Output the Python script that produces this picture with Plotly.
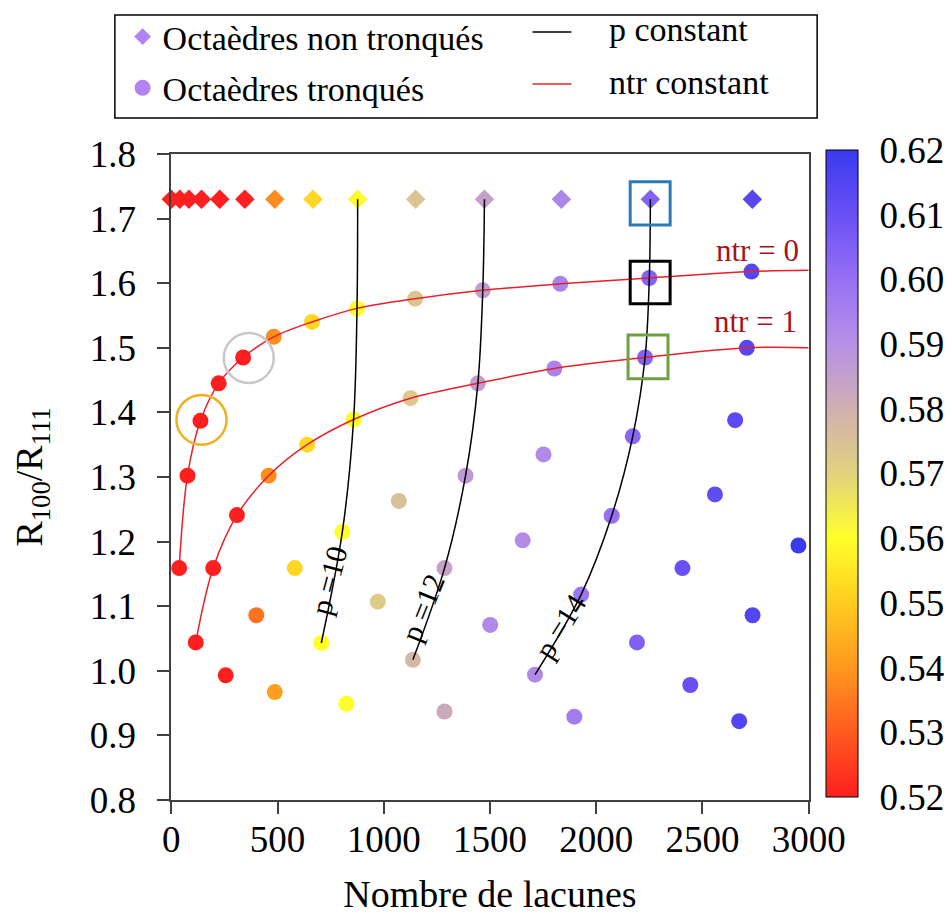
import plotly.graph_objects as go

FONT = "Liberation Serif"

# Octaèdres non tronqués (diamonds)
diam_x = [0, 40, 83, 142, 228, 346, 487, 667, 877, 1150, 1474, 1836, 2255, 2735]
diam_y = [1.73, 1.73, 1.73, 1.73, 1.73, 1.73, 1.73, 1.73, 1.73, 1.73, 1.73, 1.73, 1.73, 1.73]
diam_c = [0.52, 0.52, 0.52, 0.52, 0.52, 0.52, 0.538, 0.552, 0.559, 0.574, 0.585, 0.593, 0.604, 0.614]

# Octaèdres tronqués, ntr = 0
ntr0_x = [37, 76, 137, 223, 338, 482, 662, 874, 1148, 1466, 1831, 2250, 2731]
ntr0_y = [1.159, 1.302, 1.387, 1.445, 1.485, 1.517, 1.540, 1.561, 1.576, 1.589, 1.599, 1.608, 1.618]
ntr0_c = [0.52, 0.52, 0.52, 0.52, 0.52, 0.538, 0.552, 0.56, 0.574, 0.586, 0.594, 0.604, 0.614]

# Octaèdres tronqués, ntr = 1
ntr1_x = [115, 197, 309, 458, 639, 858, 1126, 1443, 1803, 2230, 2709]
ntr1_y = [1.044, 1.159, 1.241, 1.302, 1.350, 1.389, 1.422, 1.445, 1.468, 1.485, 1.500]
ntr1_c = [0.52, 0.52, 0.52, 0.538, 0.552, 0.56, 0.573, 0.586, 0.594, 0.604, 0.614]

# Octaèdres tronqués, ntr >= 2
other_x = [1385, 1071, 805, 581, 400, 972, 1286, 1501, 706, 1137, 256, 487, 824, 1286,
           2172, 1752, 2073, 2559, 1654, 2952, 2406, 1929, 2736, 2192, 1712, 2443, 1897, 2673, 2654]
other_y = [1.302, 1.263, 1.215, 1.159, 1.086, 1.107, 1.159, 1.071, 1.043, 1.017, 0.993, 0.967, 0.949, 0.937,
           1.363, 1.335, 1.240, 1.273, 1.202, 1.194, 1.159, 1.118, 1.086, 1.044, 0.994, 0.978, 0.929, 0.922, 1.388]
other_c = [0.587, 0.575, 0.56, 0.552, 0.534, 0.572, 0.584, 0.592, 0.56, 0.578, 0.52, 0.541, 0.56, 0.582,
           0.603, 0.592, 0.600, 0.612, 0.591, 0.62, 0.61, 0.598, 0.615, 0.605, 0.592, 0.61, 0.596, 0.615, 0.613]

# ntr constant curves run on to the right edge
ntr0_end = (3000, 1.620)
ntr1_end = (3000, 1.500)

# p constant curves
p10_x = [877, 874, 858, 805, 706]
p10_y = [1.73, 1.561, 1.389, 1.215, 1.043]
p12_x = [1474, 1466, 1443, 1385, 1286, 1137]
p12_y = [1.73, 1.589, 1.445, 1.302, 1.159, 1.017]
p14_x = [2255, 2250, 2230, 2172, 2073, 1929, 1712]
p14_y = [1.73, 1.608, 1.485, 1.363, 1.240, 1.118, 0.994]

cscale = [
    [0.0, "#ff1f1f"], [0.1, "#ff5a1f"], [0.2, "#ff981f"], [0.3, "#ffcc1f"],
    [0.4, "#ffff2a"], [0.5, "#e2d27e"], [0.6, "#d0b0b0"], [0.7, "#b78fe6"],
    [0.8, "#9670f4"], [0.9, "#6a50f4"], [1.0, "#3a3af0"],
]

circ_x = ntr0_x + ntr1_x + other_x
circ_y = ntr0_y + ntr1_y + other_y
circ_c = ntr0_c + ntr1_c + other_c

# page has an 8px body margin; keep the figure inside the window so no scrollbars appear
W, H = 936, 907


def px(v):  # figure pixel -> paper x
    return v / W


def py(v):  # figure pixel (from top) -> paper y
    return (H - v) / H


fig = go.Figure()

fig.add_trace(go.Scatter(
    x=diam_x, y=diam_y, mode="markers", showlegend=False, cliponaxis=False,
    marker=dict(symbol="diamond", size=15, color=diam_c, coloraxis="coloraxis"),
))
fig.add_trace(go.Scatter(
    x=circ_x, y=circ_y, mode="markers", showlegend=False, cliponaxis=False,
    marker=dict(symbol="circle", size=16, color=circ_c, coloraxis="coloraxis"),
))

red = "#e8202a"
fig.add_trace(go.Scatter(x=ntr0_x + [ntr0_end[0]], y=ntr0_y + [ntr0_end[1]], mode="lines",
                         line=dict(color=red, width=1.5, shape="spline"), showlegend=False))
fig.add_trace(go.Scatter(x=ntr1_x + [ntr1_end[0]], y=ntr1_y + [ntr1_end[1]], mode="lines",
                         line=dict(color=red, width=1.5, shape="spline"), showlegend=False))
for xs, ys in [(p10_x, p10_y), (p12_x, p12_y), (p14_x, p14_y)]:
    fig.add_trace(go.Scatter(x=xs, y=ys, mode="lines",
                             line=dict(color="black", width=1.5, shape="spline"), showlegend=False))

# legend entries for the markers
fig.add_trace(go.Scatter(x=[None], y=[None], mode="markers", name="Octaèdres non tronqués",
                         marker=dict(symbol="diamond", size=13, color="#b383f2"), legendgroup="a"))
fig.add_trace(go.Scatter(x=[None], y=[None], mode="markers", name="Octaèdres tronqués",
                         marker=dict(symbol="circle", size=16, color="#b383f2"), legendgroup="b"))

shapes = [
    # highlights
    dict(type="circle", xref="x", yref="y", x0=24, x1=260, y0=1.350, y1=1.427,
         line=dict(color="#f0b020", width=2.5)),
    dict(type="circle", xref="x", yref="y", x0=247, x1=482, y0=1.4455, y1=1.523,
         line=dict(color="#c8c8c8", width=2.5)),
    dict(type="rect", xref="x", yref="y", x0=2160, x1=2348, y0=1.690, y1=1.757,
         line=dict(color="#2a7ab8", width=3)),
    dict(type="rect", xref="x", yref="y", x0=2160, x1=2348, y0=1.568, y1=1.634,
         line=dict(color="black", width=3)),
    dict(type="rect", xref="x", yref="y", x0=2150, x1=2338, y0=1.452, y1=1.520,
         line=dict(color="#6fa044", width=3)),
    # legend frame and line samples
    dict(type="rect", xref="paper", yref="paper", x0=px(107), x1=px(810), y0=py(110), y1=py(7),
         line=dict(color="black", width=1.5)),
    dict(type="line", xref="paper", yref="paper", x0=px(525), x1=px(564), y0=py(24), y1=py(24),
         line=dict(color="black", width=1.5)),
    dict(type="line", xref="paper", yref="paper", x0=px(525), x1=px(564), y0=py(76), y1=py(76),
         line=dict(color=red, width=1.5)),
]

annotations = [
    dict(xref="paper", yref="paper", x=px(600), y=py(21), xanchor="left", yanchor="middle",
         text="p constant", showarrow=False, font=dict(family=FONT, size=34, color="black")),
    dict(xref="paper", yref="paper", x=px(600), y=py(74), xanchor="left", yanchor="middle",
         text="ntr constant", showarrow=False, font=dict(family=FONT, size=34, color="black")),
    dict(x=2758, y=1.651, text="ntr = 0", showarrow=False, font=dict(family=FONT, size=31, color="#a3141c")),
    dict(x=2752, y=1.540, text="ntr = 1", showarrow=False, font=dict(family=FONT, size=31, color="#a3141c")),
    dict(x=741, y=1.14, text="p =10", showarrow=False, textangle=-75, font=dict(family=FONT, size=30, color="black")),
    dict(x=1180, y=1.097, text="p =12", showarrow=False, textangle=-68, font=dict(family=FONT, size=30, color="black")),
    dict(x=1831, y=1.068, text="p =14", showarrow=False, textangle=-58, font=dict(family=FONT, size=30, color="black")),
]

axis_common = dict(
    showline=True, linecolor="#404040", linewidth=2, mirror=True,
    ticks="outside", ticklen=12, tickwidth=1.5, tickcolor="#404040",
    showgrid=False, zeroline=False, automargin=False,
    tickfont=dict(family=FONT, size=37, color="black"),
)

fig.update_layout(
    width=W, height=H,
    margin=dict(l=0, r=0, t=0, b=0),
    paper_bgcolor="white", plot_bgcolor="white",
    font=dict(family=FONT, color="black"),
    xaxis=dict(domain=[px(163.5), px(801.5)], range=[0, 3000],
               tickvals=[0, 500, 1000, 1500, 2000, 2500, 3000],
               title=dict(text="Nombre de lacunes", font=dict(family=FONT, size=38), standoff=32),
               ticklabelstandoff=-6, **axis_common),
    yaxis=dict(domain=[py(792), py(146)], range=[0.8, 1.8], dtick=0.1, tickformat=".1f",
               title=dict(text="R<sub>100</sub>/R<sub>111</sub>", font=dict(family=FONT, size=38), standoff=48),
               ticklabelstandoff=14, **axis_common),
    coloraxis=dict(
        cmin=0.52, cmax=0.62, colorscale=cscale,
        colorbar=dict(
            x=px(818), xanchor="left", xpad=0, y=py(465.5), yanchor="middle", ypad=0,
            lenmode="pixels", len=647, thickness=32,
            outlinewidth=1, outlinecolor="black",
            tickvals=[0.52, 0.53, 0.54, 0.55, 0.56, 0.57, 0.58, 0.59, 0.60, 0.61, 0.62],
            tickformat=".2f", ticks="outside", ticklen=14, tickcolor="rgba(0,0,0,0)",
            tickfont=dict(family=FONT, size=37, color="black"),
        ),
    ),
    legend=dict(x=px(114.6), y=1.0, xanchor="left", yanchor="top", bgcolor="rgba(0,0,0,0)",
                font=dict(family=FONT, size=34, color="black"), tracegroupgap=4),
    shapes=shapes,
    annotations=annotations,
)

fig.write_html("out.html")
